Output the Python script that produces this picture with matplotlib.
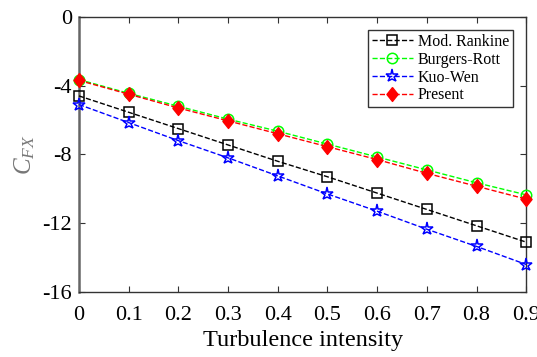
import matplotlib
matplotlib.use("Agg")
import matplotlib.pyplot as plt

plt.rcParams['font.family'] = ['Liberation Serif', 'DejaVu Serif']
plt.rcParams['mathtext.fontset'] = 'custom'
plt.rcParams['mathtext.rm'] = 'Liberation Serif'
plt.rcParams['mathtext.it'] = 'Liberation Serif:italic'

ti = [0, 0.1, 0.2, 0.3, 0.4, 0.5, 0.6, 0.7, 0.8, 0.9]
mod_rankine = [-4.6, -5.55, -6.5, -7.45, -8.4, -9.3, -10.25, -11.2, -12.15, -13.1]
burgers_rott = [-3.65, -4.45, -5.2, -5.95, -6.65, -7.4, -8.15, -8.9, -9.65, -10.35]
kuo_wen = [-5.1, -6.15, -7.2, -8.2, -9.25, -10.3, -11.3, -12.35, -13.35, -14.4]
present = [-3.7, -4.5, -5.3, -6.05, -6.8, -7.55, -8.3, -9.1, -9.85, -10.6]

xticks = [0, 0.1, 0.2, 0.3, 0.4, 0.5, 0.6, 0.7, 0.8, 0.9]
xtick_labels = ['0', '0.1', '0.2', '0.3', '0.4', '0.5', '0.6', '0.7', '0.8', '0.9']
yticks = [-16, -12, -8, -4, 0]
ytick_labels = ['-16', '-12', '-8', '-4', '0']

diamond = [(0, 1), (0.8, 0), (0, -1), (-0.8, 0), (0, 1)]

fig = plt.figure(figsize=(5.37, 3.57), dpi=100)
ax = fig.add_axes([0.147, 0.182, 0.833, 0.771])

ax.plot(ti, mod_rankine, 'k--s', mfc='none', ms=6.5, mew=1.1, lw=1, label='Mod. Rankine', clip_on=False, zorder=3)
ax.plot(ti, burgers_rott, '--o', color='#00ff00', mfc='none', ms=7.5, mew=1.1, lw=1, label='Burgers-Rott', clip_on=False, zorder=3)
ax.plot(ti, kuo_wen, '--*', color='#0000ff', mfc='none', ms=9.5, mew=1.1, lw=1, label='Kuo-Wen', clip_on=False, zorder=3)
ax.plot(ti, present, '--', marker=diamond, color='#ff0000', mfc='#ff0000', ms=10, lw=1, label='Present', clip_on=False, zorder=4)

ax.set_xlim(0, 0.9)
ax.set_ylim(-16, 0)
ax.set_xticks(xticks)
ax.set_xticklabels(xtick_labels)
ax.set_yticks(yticks)
ax.set_yticklabels(ytick_labels)
ax.tick_params(direction='in', length=4, labelsize=16, top=True, right=True, color='#333333')
ax.tick_params(axis='x', pad=10)
ax.tick_params(axis='y', pad=5)
for s in ['top', 'right', 'bottom']:
    ax.spines[s].set_color('#333333')
    ax.spines[s].set_linewidth(1.0)
ax.spines['left'].set_color('#666666')
ax.spines['left'].set_linewidth(1.8)

ax.set_xlabel('Turbulence intensity', fontsize=17.5, labelpad=4)
ax.set_ylabel(r'$C_{FX}$', fontsize=18, color='#777777', labelpad=4)

leg = ax.legend(loc='upper right', bbox_to_anchor=(0.971, 0.953), fontsize=11.5, frameon=True,
                fancybox=False, edgecolor='#333333', handlelength=2.6, handletextpad=0.3,
                labelspacing=0.12, borderpad=0.25, borderaxespad=0, framealpha=1)
leg.get_frame().set_linewidth(1.0)

fig.savefig('out.png', dpi=100)
